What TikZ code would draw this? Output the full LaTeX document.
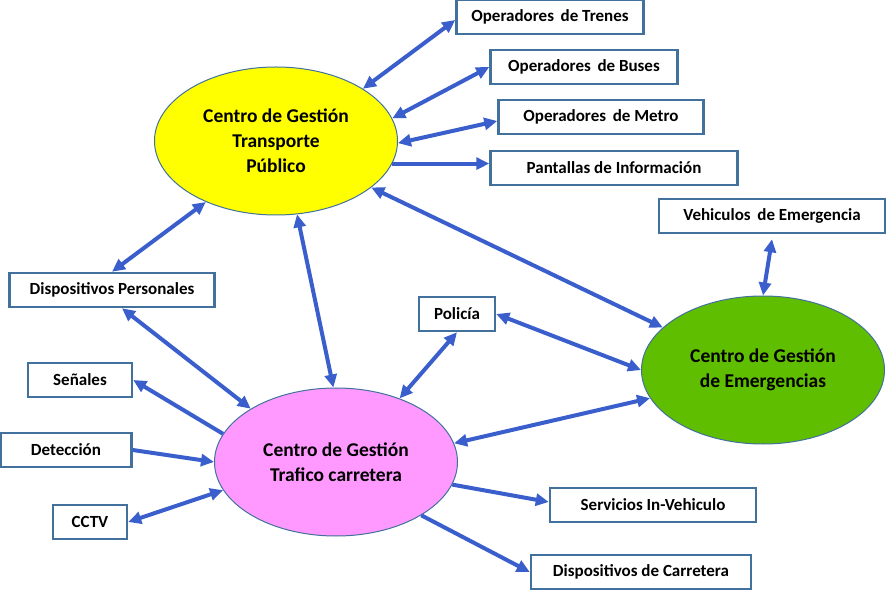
\documentclass[tikz,border=0pt]{standalone}
\usepackage{fontspec}
\setmainfont{Carlito}
\usetikzlibrary{arrows.meta,shapes.geometric}
\definecolor{flecha}{RGB}{58,95,205}
\definecolor{borde}{RGB}{65,113,156}
\definecolor{amarillo}{RGB}{255,255,0}
\definecolor{rosa}{RGB}{255,153,255}
\definecolor{verde}{RGB}{96,190,0}
\tikzset{
    caja/.style={draw=borde, line width=2.5pt, fill=white, minimum height=34pt, inner sep=0pt, font=\bfseries\fontsize{17}{20}\selectfont},
    centro/.style={ellipse, draw=borde, line width=1pt, minimum width=243pt, minimum height=148pt, inner sep=0pt, align=center, font=\bfseries\fontsize{19.5}{25}\selectfont},
    enlace/.style={draw=flecha, line width=4pt, {Triangle[length=13pt,width=12pt]}-{Triangle[length=13pt,width=12pt]}},
    salida/.style={draw=flecha, line width=4pt, -{Triangle[length=13pt,width=12pt]}}
}

\begin{document}
\begin{tikzpicture}[x=1pt, y=-1pt]
    \useasboundingbox (0,0) rectangle (886,593);
    % centros
    \node[centro, fill=amarillo](tp) at (276,141) {Centro de Gestión\\Transporte\\Público};
    \node[centro, fill=rosa](tc) at (336,462) {Centro de Gestión\\Trafico carretera};
    \node[centro, fill=verde](em) at (763,370) {Centro de Gestión\\de Emergencias};
    % cajas
    \node[caja, minimum width=187pt](tren) at (550,17) {Operadores\, de Trenes};
    \node[caja, minimum width=187pt](bus) at (584,67) {Operadores\, de Buses};
    \node[caja, minimum width=205pt](metro) at (601,117) {Operadores\, de Metro};
    \node[caja, minimum width=247pt](pant) at (614,168) {Pantallas de Información};
    \node[caja, minimum width=226pt](veh) at (772,216) {Vehiculos\, de Emergencia};
    \node[caja, minimum width=205pt](dp) at (112,290) {Dispositivos Personales};
    \node[caja, minimum width=76pt](pol) at (457,314) {Policía};
    \node[caja, minimum width=104pt](sen) at (80,380) {Señales};
    \node[caja, minimum width=131pt](det) at (66,450) {Detección};
    \node[caja, minimum width=74pt](cctv) at (90,522) {CCTV};
    \node[caja, minimum width=206pt](serv) at (653,505) {Servicios In-Vehiculo};
    \node[caja, minimum width=220pt](car) at (641,572) {Dispositivos de Carretera};
    % transporte publico
    \path[enlace] (tp.31) -- ([yshift=-3pt]tren.west);
    \path[enlace] (tp.11) -- (bus.west);
    \path[enlace] (tp.-1) -- ([yshift=-4pt]metro.west);
    \path[salida] (tp.-11) -- (tp.-11 -| pant.west);
    \path[enlace] (tp.-139) -- (dp.north);
    \path[enlace] (tp.-74) -- (tc.92);
    \path[enlace] (tp.-26) -- (em.157);
    % trafico carretera
    \path[enlace] ([xshift=10pt]dp.south) -- (tc.148);
    \path[salida] (tc.166) -- (sen.east);
    \path[salida] (det.east) -- (tc.west);
    \path[enlace] (cctv.east) -- (tc.194);
    \path[enlace] (pol.south) -- (tc.45);
    \path[enlace] (tc.9) -- (em.194);
    \path[salida] (tc.-11) -- ([yshift=3pt]serv.west);
    \path[salida] (tc.-32) -- (car.west);
    % emergencias
    \path[enlace] (pol.east) -- (em.west);
    \path[enlace] (em.north) -- ([yshift=-5pt]veh.south);
\end{tikzpicture}
\end{document}
